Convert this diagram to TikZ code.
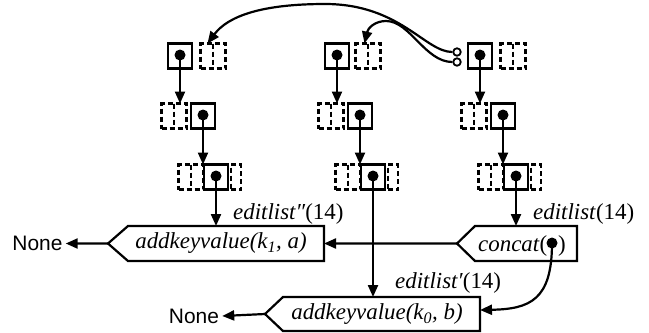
\documentclass[tikz,border=0pt]{standalone}
\usepackage{fontspec}
\setmainfont{Liberation Serif}
\newfontfamily\nonefont{Liberation Sans}
\usetikzlibrary{arrows.meta,calc}
\tikzset{
  ln/.style={line width=2.2bp},
  arr/.style={ln, -{Triangle[length=12bp,width=10bp]}},
  cell/.style={draw, line width=2.2bp, minimum width=24bp, minimum height=25bp, inner sep=0pt, outer sep=0pt},
  dcell/.style={draw, line width=2.2bp, dash pattern=on 5bp off 3bp, minimum width=25bp, minimum height=25bp, inner sep=0pt, outer sep=0pt,
    path picture={\draw[line width=2.2bp, dash pattern=on 5bp off 3bp] (path picture bounding box.north) -- (path picture bounding box.south);}},
  hcell/.style={draw, line width=2.2bp, dash pattern=on 5bp off 3bp, minimum width=10bp, minimum height=25bp, inner sep=0pt, outer sep=0pt},
  dotn/.style={circle, fill, inner sep=0pt, minimum size=11bp},
  port/.style={circle, draw, line width=1.8bp, inner sep=0pt, minimum size=7.5bp, fill=white},
  lab/.style={font=\fontsize{23}{27}\selectfont, inner sep=0pt},
  nonelab/.style={font=\nonefont\fontsize{21}{25}\selectfont, inner sep=3bp},
  fbox/.style={inner sep=0pt, outer sep=0pt, minimum height=35bp},
}
\begin{document}
\begin{tikzpicture}[x=1bp,y=-1bp]
\useasboundingbox (0,0) rectangle (649,332);

% column 1
\node[cell] (c11) at (180,56) {};
\node[dcell] (d11) at (213,56) {};
\node[cell] (c12) at (203,116) {};
\node[dcell] (l12) at (174,116) {};
\node[cell] (c13) at (216,177) {};
\node[dcell] (l13) at (191,177) {};
\node[hcell] (r13) at (236,177) {};
% column 2
\node[cell] (c21) at (337,56) {};
\node[dcell] (d21) at (368,56) {};
\node[cell] (c22) at (360,116) {};
\node[dcell] (l22) at (331,116) {};
\node[cell] (c23) at (373,177) {};
\node[dcell] (l23) at (348,177) {};
\node[hcell] (r23) at (393,177) {};
% column 3
\node[cell] (c31) at (480,56) {};
\node[dcell] (d31) at (513,56) {};
\node[cell] (c32) at (503,116) {};
\node[dcell] (l32) at (474,116) {};
\node[cell] (c33) at (516,177) {};
\node[dcell] (l33) at (491,177) {};
\node[hcell] (r33) at (536,177) {};

% dots
\foreach \c in {c11,c12,c13,c21,c22,c23,c31,c32,c33}
  \node[dotn] (\c dot) at ([yshift=1bp]\c.center) {};

% function boxes
\node[fbox, minimum width=196bp] (A) at (226,243.5) {};
\draw[ln] (A.north east) -- (A.north west) -- ++(-20,17.5) coordinate (Ap) -- (A.south west) -- (A.south east) -- cycle;
\node[lab] (At) at (221,243.5) {\itshape addkeyvalue(k\textsubscript{\itshape 1}, a)\upshape};

\node[fbox, minimum width=102bp] (C) at (526,243.5) {};
\draw[ln] (C.north east) -- (C.north west) -- ++(-18,17.5) coordinate (Cp) -- (C.south west) -- (C.south east) -- cycle;
\node[lab, anchor=base west] (Ct) at (478,251) {\textit{concat}(};
\node[dotn] (Cd) at (552,243) {};
\node[lab, anchor=base west] (Cr) at (558,251) {)};

\node[fbox, minimum width=197bp, minimum height=34bp] (B) at (381.5,314) {};
\draw[ln] (B.north east) -- (B.north west) -- ++(-18,17) coordinate (Bp) -- (B.south west) -- (B.south east) -- cycle;
\node[lab] (Bt) at (377,314) {\itshape addkeyvalue(k\textsubscript{\itshape 0}, b)\upshape};

% None
\node[nonelab] (N1) at (37.5,243.5) {None};
\node[nonelab] (N2) at (194,316) {None};

% labels
\node[lab, anchor=base west] (L1) at (233,219) {\textit{editlist″}(14)};
\node[lab, anchor=base west] (L2) at (533,219) {\textit{editlist}(14)};
\node[lab, anchor=base west] (L3) at (395,288) {\textit{editlist′}(14)};

% vertical arrows
\draw[arr] (c11.center) -- (c11.center |- c12.north);
\draw[arr] (c12.center) -- (c12.center |- c13.north);
\draw[arr] (c21.center) -- (c21.center |- c22.north);
\draw[arr] (c22.center) -- (c22.center |- c23.north);
\draw[arr] (c31.center) -- (c31.center |- c32.north);
\draw[arr] (c32.center) -- (c32.center |- c33.north);
\draw[arr] (c13.center) -- (c13.center |- A.north);
\draw[arr] (c23.center) -- (c23.center |- B.north);
\draw[arr] (c33.center) -- (c33.center |- C.north);

% horizontal arrows
\draw[arr] (Cp) -- (A.east);
\draw[arr] (Ap) -- (N1.east);
\draw[arr] (Bp) -- (N2.east);
\draw[arr] (Cd.center) .. controls (552,300) and (530,309) .. (B.east |- 0,310);

% top curves from ports
\node[port] (P1) at (457,52) {};
\node[port] (P2) at (457,62) {};
\draw[arr] (P1.west) .. controls (425,52) and (400,4) .. (325,4) .. controls (262,4) and (228,16) .. ([xshift=7bp]d11.north west);
\draw[arr] (P2.west) .. controls (425,62) and (410,21) .. (386,21) .. controls (375,21) and (368,28) .. ([xshift=9bp]d21.north west);
\end{tikzpicture}
\end{document}
